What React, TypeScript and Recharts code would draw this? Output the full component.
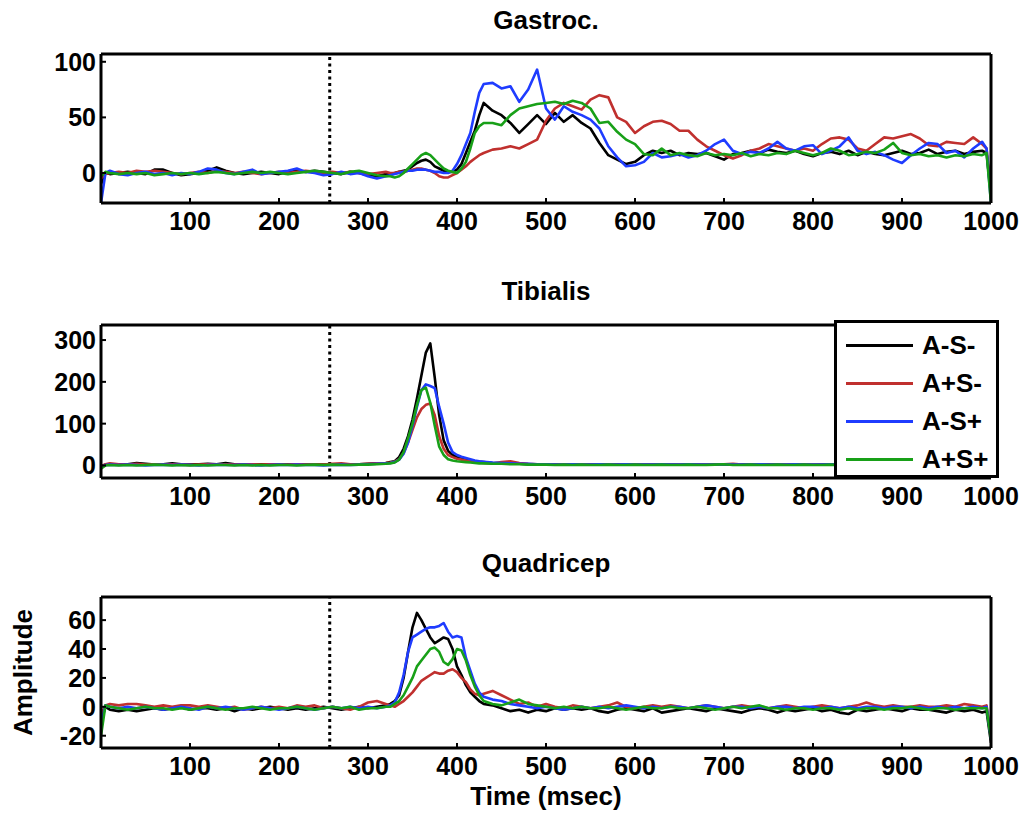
import React from 'react';
import { LineChart, Line, XAxis, YAxis, ReferenceLine, Legend } from 'recharts';

const FONT = '"Liberation Sans", Arial, Helvetica, sans-serif';

// time grid (msec)
const T = [0, 5,
  10, 20, 30, 40, 50, 60, 70, 80, 90, 100,
  110, 120, 130, 140, 150, 160, 170, 180, 190, 200,
  210, 220, 230, 240, 250, 260, 270, 280, 290, 300,
  310, 320,
  325, 330, 335, 340, 345, 350, 355, 360, 365, 370, 375, 380, 385, 390, 395, 400, 405, 410, 415, 420, 425, 430,
  440, 450, 460, 470, 480, 490, 500, 510, 520, 530,
  540, 550, 560, 570, 580, 590, 600, 610, 620, 630,
  640, 650, 660, 670, 680, 690, 700, 710, 720, 730,
  740, 750, 760, 770, 780, 790, 800, 810, 820, 830,
  840, 850, 860, 870, 880, 890, 900, 910, 920, 930,
  940, 950, 960, 970, 980, 990,
  995, 1000];

const X_TICKS = [100, 200, 300, 400, 500, 600, 700, 800, 900, 1000];
const ONSET = 257;

// ---- Gastroc. ----
const G_K = [-10, 0,
  -1, 0, 1, 0, -1, 3, 3, 0, -2, -1,
  0, 2, 5, 2, 0, -1, 0, 1, 0, -1,
  1, 2, 1, 2, 1, 0, -1, 1, 0, -2,
  -3, -1,
  -1, 0, 1, 2, 3, 6, 9, 11, 12, 10, 6, 4, 2, 1, 1, 3, 8, 18, 28, 38, 52, 63,
  56, 52, 45, 36, 44, 52, 44, 54, 46, 52,
  45, 40, 27, 16, 12, 8, 10, 16, 20, 18,
  20, 16, 18, 17, 18, 15, 12, 17, 18, 20,
  18, 21, 19, 18, 20, 17, 15, 18, 19, 17,
  20, 16, 19, 17, 16, 18, 20, 17, 18, 21,
  17, 19, 20, 17, 19, 20,
  18, -20];
const G_R = [-5, -1,
  0, 1, 0, 2, 1, 2, 1, 0, -1, 0,
  1, 0, 2, 1, 0, 1, 0, -1, 0, 1,
  0, 1, 2, 1, 0, 1, 0, 1, 0, -1,
  0, 1,
  0, 0, 1, 1, 2, 3, 4, 4, 3, 2, 0, -3, -4, -4, -2, 0, 3, 6, 10, 13, 16, 18,
  21, 22, 24, 22, 26, 30, 47, 58, 63, 60,
  57, 66, 70, 68, 50, 46, 36, 42, 46, 47,
  44, 38, 38, 30, 24, 20, 16, 13, 16, 20,
  22, 26, 24, 22, 20, 22, 20, 26, 31, 32,
  30, 22, 20, 26, 32, 31, 33, 35, 31, 25,
  24, 28, 27, 26, 32, 26,
  22, -18];
const G_B = [-27, 0,
  2, -1, -2, 0, 1, -1, 0, -2, 0, -1,
  1, 4, 3, 0, -1, 1, 3, -1, 0, 1,
  2, 4, 1, 0, -2, -1, 1, -1, 0, -3,
  -5, -3,
  -2, -1, 0, 1, 2, 2, 3, 3, 3, 2, 1, 1, 0, 0, 2, 8, 16, 26, 36, 55, 72, 80,
  81, 76, 78, 64, 75, 93, 58, 48, 60, 55,
  52, 48, 40, 24, 14, 6, 7, 10, 18, 14,
  15, 17, 14, 16, 20, 26, 30, 20, 17, 19,
  18, 22, 28, 22, 20, 24, 25, 17, 20, 24,
  32, 20, 17, 19, 16, 12, 9, 16, 22, 27,
  26, 18, 20, 14, 22, 28,
  22, -27];
const G_G = [-3, 1,
  0, -1, 0, -1, 0, -2, -1, 0, -1, 0,
  -1, 0, 1, 0, -1, 0, 1, 0, 1, 0,
  -1, 0, 1, 2, 1, 0, -1, 1, 2, 0,
  -2, -3,
  -3, -4, -3, 0, 4, 8, 12, 16, 18, 16, 12, 8, 4, 2, 1, 0, 4, 10, 22, 36, 42, 45,
  45, 43, 52, 58, 60, 62, 63, 64, 62, 65,
  63, 58, 45, 46, 37, 30, 26, 17, 16, 22,
  16, 18, 16, 15, 18, 16, 17, 16, 18, 15,
  17, 16, 18, 17, 20, 18, 16, 18, 22, 20,
  16, 17, 19, 18, 21, 27, 18, 16, 17, 15,
  16, 14, 16, 15, 17, 16,
  18, -27];

// ---- Tibialis ----
const T_K = [-2, 2,
  3, 2, 3, 6, 4, 2, 3, 5, 3, 2,
  3, 4, 3, 6, 3, 2, 2, 3, 2, 2,
  3, 2, 2, 3, 2, 3, 3, 2, 3, 4,
  5, 6,
  8, 10, 20, 40, 70, 110, 160, 215, 270, 292, 210, 120, 60, 35, 25, 20, 16, 14, 12, 10, 9, 8,
  6, 5, 4, 4, 3, 3, 2, 3, 2, 3,
  2, 3, 2, 2, 3, 2, 3, 2, 2, 3,
  2, 2, 3, 2, 2, 3, 2, 2, 3, 2,
  2, 3, 2, 2, 3, 2, 2, 3, 2, 2,
  3, 2, 2, 3, 2, 2, 3, 2, 2, 3,
  2, 2, 3, 2, 2, 3,
  2, 0];
const T_R = [-2, 3,
  5, 3, 2, 4, 2, 3, 2, 3, 2, 1,
  2, 3, 2, 3, 2, 2, 3, 2, 3, 2,
  2, 3, 2, 3, 2, 4, 5, 3, 3, 4,
  5, 6,
  7, 9, 15, 30, 55, 85, 115, 135, 145, 148, 120, 70, 40, 25, 20, 16, 14, 12, 10, 8, 7, 6,
  5, 8, 10, 6, 4, 3, 3, 2, 3, 2,
  3, 2, 2, 3, 2, 2, 3, 2, 2, 3,
  2, 3, 2, 2, 3, 2, 3, 4, 2, 2,
  3, 2, 2, 3, 2, 2, 3, 2, 2, 3,
  2, 3, 2, 2, 3, 2, 2, 3, 2, 2,
  3, 2, 2, 3, 2, 2,
  2, 0];
const T_B = [-4, 1,
  2, 1, 2, 1, 0, 1, 2, 1, 2, 1,
  0, 1, 2, 1, 1, 2, 1, 0, 1, 2,
  1, 2, 1, 1, 0, 1, 2, 1, 2, 3,
  4, 5,
  6, 8, 14, 28, 55, 95, 140, 180, 194, 190, 185, 140, 100, 55, 32, 25, 21, 18, 15, 12, 10, 9,
  7, 6, 5, 4, 4, 3, 3, 2, 2, 3,
  2, 2, 3, 2, 2, 3, 2, 2, 2, 3,
  2, 2, 3, 2, 2, 2, 3, 2, 2, 2,
  3, 2, 2, 2, 3, 2, 2, 2, 3, 2,
  2, 2, 3, 2, 2, 2, 3, 2, 2, 2,
  3, 2, 2, 2, 3, 2,
  2, 0];
const T_G = [-8, 0,
  1, 0, 1, 0, 1, 2, 1, 0, 1, 0,
  1, 0, 1, 1, 0, 1, 0, 1, 0, 1,
  1, 0, 1, 2, 1, 2, 1, 1, 2, 2,
  3, 4,
  5, 7, 14, 32, 65, 100, 145, 180, 186, 150, 95, 45, 25, 15, 12, 10, 9, 8, 7, 6, 5, 5,
  4, 4, 3, 3, 2, 2, 2, 1, 2, 1,
  2, 1, 1, 2, 1, 1, 2, 1, 1, 2,
  1, 1, 2, 1, 1, 2, 3, 1, 1, 2,
  1, 1, 2, 1, 1, 2, 1, 1, 2, 1,
  1, 2, 1, 1, 2, 1, 1, 2, 1, 1,
  2, 1, 1, 2, 1, 1,
  1, 0];

// ---- Quadricep ----
const Q_K = [-10, 0,
  -2, -3, -2, -3, -2, -1, -2, -1, 0, -2,
  -1, -1, -2, -1, -3, -1, -2, -1, 0, -1,
  -2, -1, -2, -1, 0, -1, -2, -1, 0, -1,
  0, 1,
  2, 4, 8, 20, 38, 55, 65, 60, 54, 48, 44, 46, 48, 47, 40, 28, 22, 15, 10, 7, 4, 2,
  1, -1, -3, -2, -4, -2, -3, -1, -2, -1,
  -2, -1, -3, -4, -2, -1, -2, -3, -1, -4,
  -3, -2, -1, -2, -3, -1, -2, -3, -4, -2,
  -1, -2, -4, -2, -3, -2, -1, -3, -2, -4,
  -5, -2, -3, -2, -1, -2, -3, -1, -2, -2,
  -3, -4, -2, -3, -2, -4,
  -3, -25];
const Q_R = [-5, 1,
  2, 1, 2, 2, 1, 0, 1, 0, 1, 1,
  0, 1, 0, -1, 0, -2, -1, 0, -1, 0,
  -1, 1, 0, 1, -1, 0, -1, -2, 0, 3,
  4, 2,
  1, 0, 2, 4, 7, 10, 14, 18, 20, 22, 24, 23, 23, 25, 26, 24, 20, 17, 12, 9, 8, 9,
  11, 8, 5, 2, 3, 0, 2, 0, -1, 1,
  0, -1, 0, 1, 3, 0, -1, 0, 1, 0,
  1, 0, -1, 0, 1, 0, -1, 0, 1, 0,
  0, -1, 0, 1, 0, -1, 0, 1, 0, -1,
  0, 1, 3, 1, 0, 1, 0, 0, 1, 0,
  0, 1, 0, 2, 1, 0,
  1, -20];
const Q_B = [-12, 1,
  0, -1, 0, -1, 0, -1, -2, -1, 0, -1,
  -2, 0, -1, 0, -1, -2, -1, 0, -1, -2,
  -1, 0, -1, -2, -1, 0, -1, 0, -1, 0,
  -1, 0,
  1, 3, 10, 22, 38, 48, 50, 52, 54, 55, 55, 56, 58, 52, 48, 49, 48, 34, 25, 16, 10, 7,
  5, 4, 2, 1, 0, -1, 0, -1, -2, -1,
  0, -1, 0, -1, 0, 1, 0, -1, 0, -1,
  0, 0, -1, 0, 1, 0, -1, 0, 0, -1,
  0, -1, 0, 0, -1, 0, 0, -1, 0, -1,
  0, -1, 0, 0, -1, 0, 0, -1, 0, -1,
  0, -1, 0, -1, 0, -1,
  0, -22];
const Q_G = [-20, 1,
  0, -1, -2, -1, 0, -1, -1, -2, -1, -2,
  -1, 0, -1, -2, -1, -1, 0, -1, -2, -1,
  -1, 0, -1, -2, -1, 0, -1, 0, -2, -1,
  -1, 0,
  0, 2, 4, 8, 14, 20, 28, 32, 36, 40, 41, 38, 31, 29, 33, 40, 39, 32, 22, 14, 8, 4,
  2, 1, 3, 5, 2, 1, 0, -1, 0, -1,
  0, -1, -1, 0, -1, -2, -1, 0, -1, -1,
  0, -1, -1, 0, -1, -2, -1, 0, -1, 0,
  1, -1, -1, -2, -1, -1, -2, -1, -1, -2,
  -1, -2, -1, -1, -2, -1, -1, 0, -1, -2,
  -1, -1, -2, -1, -1, -1,
  -1, -22];

const SERIES = [
  { key: 'k', name: 'A-S-', color: '#000000' },
  { key: 'r', name: 'A+S-', color: '#c0302e' },
  { key: 'b', name: 'A-S+', color: '#1f3cff' },
  { key: 'g', name: 'A+S+', color: '#18a018' },
];
const SERIES_ORDER = SERIES.map((s) => s.name);

const build = (k: number[], r: number[], b: number[], g: number[]) =>
  T.map((t, i) => ({ t, k: k[i], r: r[i], b: b[i], g: g[i] }));

const TICK = { fontSize: 25, fontWeight: 'bold', fill: '#000', fontFamily: FONT };
const AXIS_LINE = { stroke: '#000', strokeWidth: 3 };
const TICK_LINE = { stroke: '#000', strokeWidth: 2 };

const LegendBox = (props: any) => {
  const payload = [...(props.payload || [])].sort(
    (a: any, b: any) => SERIES_ORDER.indexOf(a.value) - SERIES_ORDER.indexOf(b.value));
  return (
    <div style={{
      width: 165, height: 158, boxSizing: 'border-box', border: '3px solid #000',
      background: '#fff', paddingTop: 3, fontFamily: FONT,
    }}>
      {payload.map((p: any) => (
        <div key={p.value} style={{ height: 38, display: 'flex', alignItems: 'center' }}>
          <div style={{ width: 67, height: 3, background: p.color, marginLeft: 9, marginRight: 9 }} />
          <span style={{ fontSize: 26, fontWeight: 'bold', color: '#000' }}>{p.value}</span>
        </div>
      ))}
    </div>
  );
};

type PanelProps = {
  top: number; height: number; margin: any; data: any[];
  yDomain: number[]; yTicks: number[]; title: string;
  legend?: boolean; xLabel?: string; yLabel?: string;
};

function Panel({ top, height, margin, data, yDomain, yTicks, title, legend, xLabel, yLabel }: PanelProps) {
  return (
    <div style={{ position: 'absolute', left: 0, top, width: 1029, height }}>
      <LineChart width={1029} height={height} data={data} margin={margin}>
        <XAxis xAxisId="b" dataKey="t" type="number" domain={[0, 1000]} ticks={X_TICKS} interval={0}
          allowDataOverflow height={1} tickSize={-5} tickMargin={14} axisLine={AXIS_LINE} tickLine={TICK_LINE}
          tick={TICK}
          label={xLabel ? { value: xLabel, position: 'bottom', offset: 38, fontSize: 26, fontWeight: 'bold', fill: '#000', fontFamily: FONT } : undefined} />
        <XAxis xAxisId="t" dataKey="t" orientation="top" type="number" domain={[0, 1000]} ticks={X_TICKS} interval={0}
          allowDataOverflow height={1} tickSize={-5} axisLine={AXIS_LINE} tickLine={TICK_LINE} tick={false}
          label={{ value: title, position: 'top', offset: 24, fontSize: 26, fontWeight: 'bold', fill: '#000', fontFamily: FONT }} />
        <YAxis yAxisId="l" type="number" domain={yDomain} ticks={yTicks} interval={0} allowDataOverflow
          width={1} tickSize={-5} tickMargin={10} axisLine={AXIS_LINE} tickLine={TICK_LINE} tick={TICK}
          label={yLabel ? {
            content: (p: any) => {
              const vb = p.viewBox || { x: 100, y: 0, height: 0 };
              const x = vb.x - 77;
              const y = vb.y + vb.height / 2;
              return (
                <text x={x} y={y} transform={`rotate(-90 ${x} ${y})`} textAnchor="middle" dominantBaseline="central"
                  fontSize={26} fontWeight="bold" fill="#000" fontFamily={FONT}>{yLabel}</text>
              );
            },
          } : undefined} />
        <YAxis yAxisId="r" orientation="right" type="number" domain={yDomain} ticks={yTicks} interval={0} allowDataOverflow
          width={1} tickSize={-5} axisLine={AXIS_LINE} tickLine={TICK_LINE} tick={false} />
        <ReferenceLine xAxisId="b" yAxisId="l" x={ONSET} stroke="#000" strokeWidth={3} strokeDasharray="3 3.5" />
        {SERIES.map((s) => (
          <Line key={s.key} xAxisId="b" yAxisId="l" dataKey={s.key} name={s.name} stroke={s.color}
            strokeWidth={2.6} dot={false} isAnimationActive={false} type="linear" strokeLinejoin="round" legendType="line" />
        ))}
        {legend && (
          <Legend layout="horizontal" verticalAlign="middle" align="center" content={<LegendBox />}
            wrapperStyle={{ left: 834, top: 60, width: 165, height: 158 }} />
        )}
      </LineChart>
    </div>
  );
}

export default function App() {
  return (
    <div style={{ position: 'absolute', left: 0, top: 0, width: 1029, height: 814, background: '#fff', fontFamily: FONT }}>
      <Panel top={0} height={250} margin={{ top: 53, bottom: 46, left: 100, right: 37 }}
        data={build(G_K, G_R, G_B, G_G)} yDomain={[-27, 107]} yTicks={[0, 50, 100]} title="Gastroc." />
      <Panel top={260} height={270} margin={{ top: 64, bottom: 51, left: 100, right: 37 }}
        data={build(T_K, T_R, T_B, T_G)} yDomain={[-30, 336]} yTicks={[0, 100, 200, 300]} title="Tibialis" legend />
      <Panel top={530} height={284} margin={{ top: 66, bottom: 65, left: 100, right: 37 }}
        data={build(Q_K, Q_R, Q_B, Q_G)} yDomain={[-28.5, 76]} yTicks={[-20, 0, 20, 40, 60]} title="Quadricep"
        xLabel="Time (msec)" yLabel="Amplitude" />
    </div>
  );
}
